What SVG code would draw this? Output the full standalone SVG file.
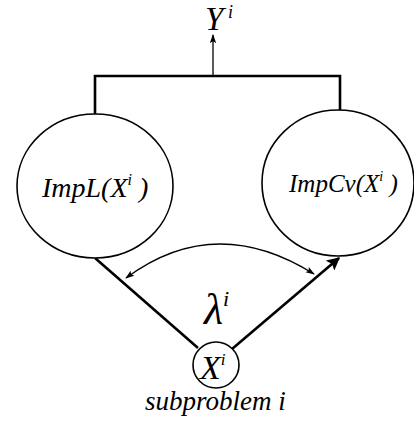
<svg xmlns="http://www.w3.org/2000/svg" width="414" height="427" viewBox="0 0 414 427">
<style>
text{font-family:"Liberation Serif","Times New Roman",serif;font-style:italic;fill:#000}
.node{fill:#fff;stroke:#000;stroke-width:1.6}
.thick{fill:none;stroke:#000;stroke-width:2.6}
.thin{fill:none;stroke:#000;stroke-width:1.3}
</style>
<defs>
<marker id="bigHead" viewBox="0 0 10 10" refX="9" refY="5" markerWidth="5" markerHeight="5" orient="auto">
<path d="M0,0 L10,5 L0,10 L2,5 Z" fill="#000"/>
</marker>
<marker id="small" viewBox="0 0 10 10" refX="9" refY="5" markerWidth="9" markerHeight="9" markerUnits="userSpaceOnUse" orient="auto-start-reverse">
<path d="M0,1.5 L10,5 L0,8.5 L2,5 Z" fill="#000"/>
</marker>
</defs>
<g id="connectors">
<path class="thick" d="M95,114 V76 H340 V111" stroke-width="3"/>
<path class="thin" d="M213,76 V35" stroke-width="1" marker-end="url(#small)"/>
<path class="thick" d="M95,258 L198,348"/>
<path class="thick" d="M232,349 L339,258" marker-end="url(#bigHead)"/>
<path class="thin" d="M126,278 Q215,212 314,274" marker-start="url(#small)" marker-end="url(#small)"/>
</g>
<g id="node-left">
<ellipse class="node" cx="95" cy="186" rx="78" ry="72"/>
<text x="42" y="197" font-size="28">ImpL(X<tspan font-size="16" dy="-12">i</tspan><tspan dy="12"> )</tspan></text>
</g>
<g id="node-right">
<ellipse class="node" cx="338" cy="183" rx="76" ry="73"/>
<text x="289" y="192" font-size="25">ImpCv(X<tspan font-size="14" dy="-11">i</tspan><tspan dy="11"> )</tspan></text>
</g>
<g id="node-sub">
<circle class="node" cx="216" cy="365" r="23"/>
<text x="200" y="379" font-size="34">X<tspan font-size="17" dy="-14">i</tspan></text>
</g>
<g id="labels">
<text x="205" y="30" font-size="33">Y</text>
<text x="228" y="18" font-size="18">i</text>
<text x="204" y="324" font-size="44">λ<tspan font-size="22" dy="-18">i</tspan></text>
<text x="145" y="410" font-size="27">subproblem i</text>
</g>
</svg>
